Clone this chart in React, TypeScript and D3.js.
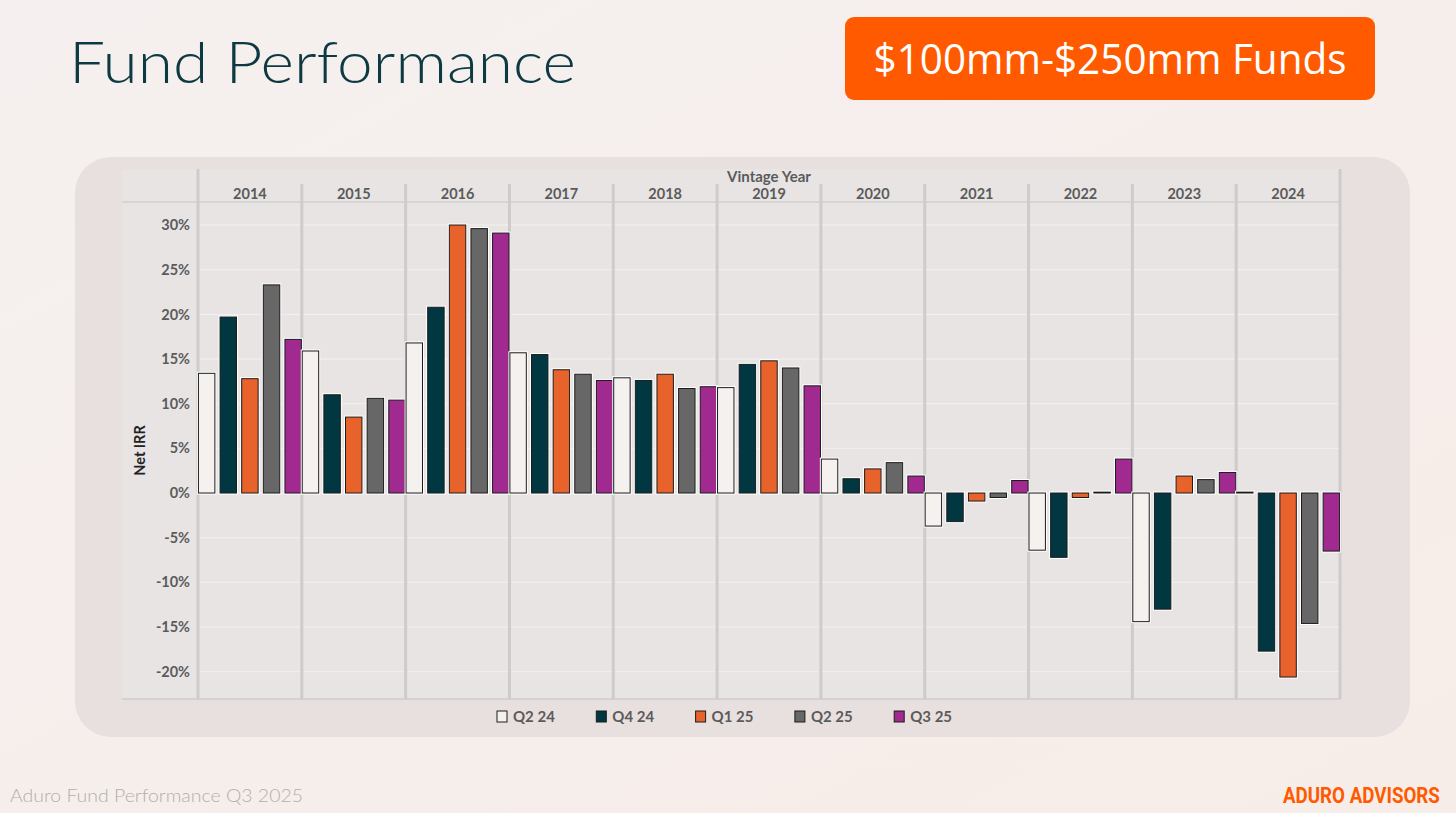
import React, { useEffect, useRef } from 'react';
import * as d3 from 'd3';

const years = ['2014', '2015', '2016', '2017', '2018', '2019', '2020', '2021', '2022', '2023', '2024'];
const seriesNames = ['Q2 24', 'Q4 24', 'Q1 25', 'Q2 25', 'Q3 25'];
const seriesColors = ['#f5f1ef', '#003740', '#e8622b', '#676767', '#a02a90'];

// Net IRR (%) per vintage year, one array per quarter
const q224 = [13.4, 15.9, 16.8, 15.7, 12.9, 11.8, 3.8, -3.7, -6.4, -14.4, 0.1];
const q424 = [19.7, 11.0, 20.8, 15.5, 12.6, 14.4, 1.6, -3.2, -7.2, -13.0, -17.7];
const q125 = [12.8, 8.5, 30.0, 13.8, 13.3, 14.8, 2.7, -0.9, -0.5, 1.9, -20.6];
const q225 = [23.3, 10.6, 29.6, 13.3, 11.7, 14.0, 3.4, -0.5, 0.1, 1.5, -14.6];
const q325 = [17.2, 10.4, 29.1, 12.6, 11.9, 12.0, 1.9, 1.4, 3.8, 2.3, -6.5];
const seriesValues = [q224, q424, q125, q225, q325];

const yTicks = [-20, -15, -10, -5, 0, 5, 10, 15, 20, 25, 30];

const W = 1456;
const H = 813;
const labelFont = 'Lato, "Open Sans", sans-serif';

export default function App() {
  const svgRef = useRef<SVGSVGElement>(null);

  useEffect(() => {
    document.body.style.margin = '0';
    if (!svgRef.current) return;
    const svg = d3.select(svgRef.current);
    svg.selectAll('*').remove();

    // background
    const defs = svg.append('defs');
    const bg = defs.append('linearGradient').attr('id', 'bg').attr('x1', 0).attr('y1', 0).attr('x2', 1).attr('y2', 1);
    bg.append('stop').attr('offset', '0%').attr('stop-color', '#f5f0ef');
    bg.append('stop').attr('offset', '60%').attr('stop-color', '#f6eeeb');
    bg.append('stop').attr('offset', '100%').attr('stop-color', '#f7ede8');
    svg.append('rect').attr('width', W).attr('height', H).attr('fill', 'url(#bg)');

    // title
    svg.append('text')
      .attr('x', 69).attr('y', 83)
      .attr('font-family', 'Lato, "Open Sans", sans-serif')
      .attr('font-weight', 300)
      .attr('font-size', 57)
      .attr('textLength', 507)
      .attr('lengthAdjust', 'spacingAndGlyphs')
      .attr('fill', '#0d3a42')
      .text('Fund Performance');

    // orange tag
    svg.append('rect')
      .attr('x', 845).attr('y', 17).attr('width', 530).attr('height', 83)
      .attr('rx', 9).attr('fill', '#ff5a00');
    svg.append('text')
      .attr('x', 1110).attr('y', 74)
      .attr('text-anchor', 'middle')
      .attr('font-family', '"Open Sans", "Noto Sans", sans-serif')
      .attr('font-size', 42)
      .attr('textLength', 473)
      .attr('lengthAdjust', 'spacingAndGlyphs')
      .attr('fill', '#ffffff')
      .text('$100mm-$250mm Funds');

    // card
    svg.append('rect')
      .attr('x', 75).attr('y', 157).attr('width', 1335).attr('height', 580)
      .attr('rx', 36).attr('fill', '#e8e0de');

    const left = 198;
    const right = 1340;
    const top = 202;
    const bottom = 699;

    svg.append('rect')
      .attr('x', 122).attr('y', 169).attr('width', right - 122).attr('height', bottom - 169)
      .attr('fill', '#e8e4e4');

    const x0 = d3.scaleBand<string>().domain(years).range([left, right]).padding(0);
    const x1 = d3.scaleBand<string>().domain(seriesNames).range([0, x0.bandwidth()])
      .paddingInner(0.24).paddingOuter(0.02);
    const y = d3.scaleLinear().domain([-23.06, 32.58]).range([bottom, top]);

    // gridlines
    svg.append('g')
      .selectAll('line')
      .data(yTicks)
      .join('line')
      .attr('x1', left).attr('x2', right)
      .attr('y1', d => y(d)).attr('y2', d => y(d))
      .attr('stroke', '#f3f0f0').attr('stroke-width', 1);

    // header line and bottom line
    svg.append('line').attr('x1', 122).attr('x2', right).attr('y1', top).attr('y2', top)
      .attr('stroke', '#d2cfcf').attr('stroke-width', 1.5);
    svg.append('line').attr('x1', 122).attr('x2', right).attr('y1', bottom).attr('y2', bottom)
      .attr('stroke', '#cfcccc').attr('stroke-width', 1.5);

    // panel separators
    const bounds = years.map(d => x0(d)!).concat([right]);
    svg.append('g')
      .selectAll('line')
      .data(bounds)
      .join('line')
      .attr('x1', d => d).attr('x2', d => d)
      .attr('y1', (d, i) => (i === 0 || i === bounds.length - 1 ? 169 : 184))
      .attr('y2', bottom)
      .attr('stroke', '#cdcbcb').attr('stroke-width', 3);

    // header labels
    svg.append('text')
      .attr('x', (left + right) / 2).attr('y', 182)
      .attr('text-anchor', 'middle')
      .attr('font-family', labelFont).attr('font-weight', 700).attr('font-size', 15)
      .attr('fill', '#5b5b5b')
      .text('Vintage Year');
    svg.append('g')
      .selectAll('text')
      .data(years)
      .join('text')
      .attr('x', d => x0(d)! + x0.bandwidth() / 2)
      .attr('y', 199)
      .attr('text-anchor', 'middle')
      .attr('font-family', labelFont).attr('font-weight', 700).attr('font-size', 14.5)
      .attr('fill', '#5b5b5b')
      .text(d => d);

    // y axis
    const yAxis = svg.append('g').attr('transform', `translate(${left - 8},0)`)
      .call(d3.axisLeft(y).tickValues(yTicks).tickSize(0).tickPadding(0).tickFormat(d => `${d}%`));
    yAxis.select('.domain').remove();
    yAxis.selectAll('text')
      .attr('font-family', labelFont).attr('font-weight', 700).attr('font-size', 14.5)
      .attr('fill', '#5b5b5b');

    svg.append('text')
      .attr('transform', `translate(145,${(top + bottom) / 2}) rotate(-90)`)
      .attr('text-anchor', 'middle')
      .attr('font-family', labelFont).attr('font-weight', 700).attr('font-size', 14.5)
      .attr('fill', '#222')
      .text('Net IRR');

    // bars
    const groups = svg.append('g')
      .selectAll('g')
      .data(years)
      .join('g')
      .attr('transform', d => `translate(${x0(d)},0)`);

    const barData = (yi: number) => seriesNames.map((s, si) => ({ s, si, v: seriesValues[si][yi] }));

    groups.each(function (_, yi) {
      const g = d3.select(this);
      const data = barData(yi);
      const rectAttrs = (sel: d3.Selection<SVGRectElement, any, any, any>) => sel
        .attr('x', d => x1(d.s)!)
        .attr('y', d => Math.min(y(d.v), y(0)))
        .attr('width', x1.bandwidth())
        .attr('height', d => Math.max(0.5, Math.abs(y(d.v) - y(0))));
      g.selectAll('rect.halo').data(data).join('rect').attr('class', 'halo')
        .call(rectAttrs)
        .attr('fill', 'none').attr('stroke', '#ffffff').attr('stroke-width', 3);
      g.selectAll('rect.bar').data(data).join('rect').attr('class', 'bar')
        .call(rectAttrs)
        .attr('fill', d => seriesColors[d.si])
        .attr('stroke', '#1c1c1c').attr('stroke-width', 1);
    });

    // legend
    const legend = svg.append('g')
      .selectAll('g')
      .data(seriesNames)
      .join('g')
      .attr('transform', (d, i) => `translate(${497 + i * 99.3},711)`);
    legend.append('rect')
      .attr('width', 10).attr('height', 11)
      .attr('fill', (d, i) => seriesColors[i])
      .attr('stroke', '#1c1c1c').attr('stroke-width', 1);
    legend.append('text')
      .attr('x', 16).attr('y', 11)
      .attr('font-family', labelFont).attr('font-weight', 700).attr('font-size', 15)
      .attr('fill', '#5b5b5b')
      .text(d => d);

    // footer
    svg.append('text')
      .attr('x', 10).attr('y', 802)
      .attr('font-family', 'Lato, sans-serif').attr('font-weight', 300).attr('font-size', 18)
      .attr('textLength', 293).attr('lengthAdjust', 'spacingAndGlyphs')
      .attr('fill', '#b3aeac')
      .text('Aduro Fund Performance Q3 2025');

    // brand mark: condensed by a horizontal scale so its box stays inside the page
    const brand = svg.append('g');
    const brandText = brand.append('text')
      .attr('x', 0).attr('y', 0)
      .attr('font-family', '"Liberation Sans Narrow", "Roboto", sans-serif')
      .attr('font-weight', 700).attr('font-size', 22)
      .attr('fill', '#ff5a00')
      .text('ADURO ADVISORS');
    const natural = (brandText.node() as SVGTextElement).getComputedTextLength() || 157;
    brand.attr('transform', `translate(1283,803) scale(${157 / natural},1)`);
  }, []);

  return <svg ref={svgRef} width={W} height={H} style={{ position: 'absolute', left: 0, top: 0 }} />;
}
